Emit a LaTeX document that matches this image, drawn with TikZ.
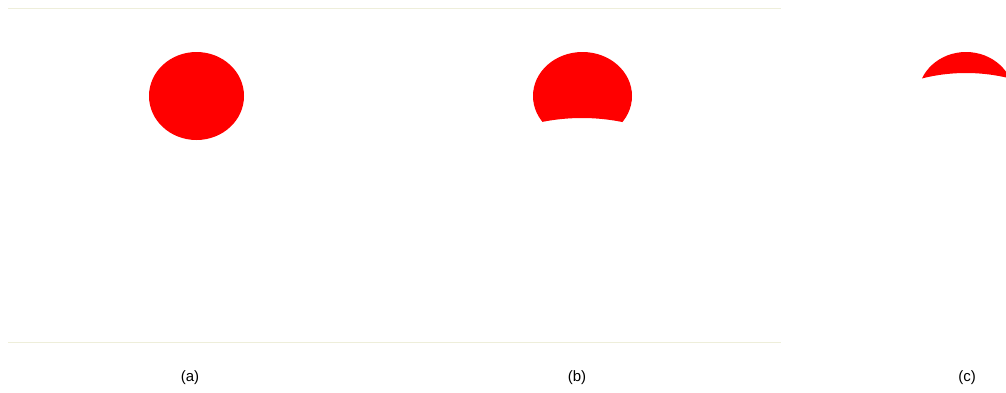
\documentclass[tikz,border=0pt]{standalone}
\usepackage{fontspec}
\setmainfont{Liberation Sans}
\begin{document}
\begin{tikzpicture}[x=1pt,y=-1pt,
  rule/.style={draw=rulecol,line width=1pt},
  blob/.style={fill=red},
  lab/.style={font=\fontsize{15}{17}\selectfont,inner sep=0pt}]
\definecolor{rulecol}{RGB}{238,238,218}
\useasboundingbox (0,0) rectangle (1006,392);
\coordinate (tl) at (8,8);
\coordinate (tr) at (781,8);
\coordinate (bl) at (8,342.5);
\coordinate (br) at (781,342.5);
\draw[rule] (tl) -- (tr);
\draw[rule] (bl) -- (br);
% (a)
\fill[blob] (196.5,96) ellipse [x radius=47.5, y radius=44];
% (b)
\begin{scope}[even odd rule]
\clip (500,0) rectangle (700,300) (582,320) circle (202);
\fill[blob] (582.5,96) ellipse [x radius=49.5, y radius=44];
\end{scope}
% (c)
\begin{scope}[even odd rule]
\clip (0,0) rectangle (1006,392);
\clip (880,0) rectangle (1060,300) (966,253) circle (180);
\fill[blob] (966,96) ellipse [x radius=48, y radius=44];
\end{scope}
\node[lab] (la) at (190,378) {(a)};
\node[lab] (lb) at (577,378) {(b)};
\node[lab] (lc) at (967,378) {(c)};
\end{tikzpicture}
\end{document}
